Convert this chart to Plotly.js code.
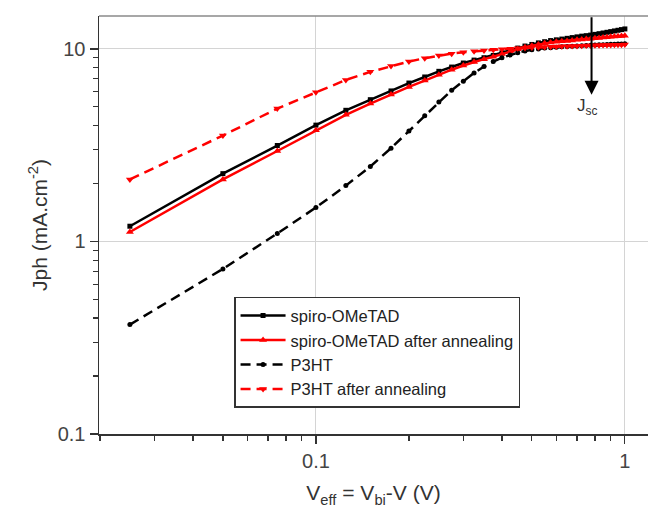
<!DOCTYPE html>
<html>
<head>
<meta charset="utf-8">
<script src="https://cdn.plot.ly/plotly-3.0.1.min.js"></script>
<style>html,body{margin:0;padding:0;background:#fff;}#chart{width:648px;height:511px;}</style>
</head>
<body>
<div id="chart"></div>
<script>
// Effective voltage V_eff (V)
var vEff = [0.025,0.05,0.075,0.1,0.125,0.15,0.175,0.2,0.225,0.25,0.275,0.3,0.325,0.35,0.375,0.4,0.425,0.45,0.475,0.5,
            0.525,0.55,0.575,0.6,0.625,0.65,0.675,0.7,0.725,0.75,0.775,0.8,0.825,0.85,0.875,0.9,0.925,0.95,0.975,1.0];

// Jph (mA.cm-2)
var spiro = [1.20,2.25,3.15,4.02,4.80,5.45,6.05,6.65,7.15,7.65,8.05,8.45,8.75,9.00,9.25,9.55,9.85,10.10,10.35,10.55,
             10.75,10.90,11.05,11.15,11.25,11.35,11.45,11.55,11.65,11.72,11.80,11.90,12.00,12.10,12.20,12.30,12.40,12.50,12.60,12.70];
var spiroAnn = [1.12,2.10,2.95,3.78,4.55,5.20,5.80,6.35,6.85,7.35,7.80,8.20,8.55,8.85,9.10,9.40,9.70,9.95,10.20,10.40,
                10.55,10.70,10.80,10.90,10.95,11.00,11.05,11.15,11.20,11.25,11.30,11.35,11.40,11.45,11.50,11.55,11.60,11.62,11.66,11.70];
var p3ht = [0.37,0.72,1.10,1.50,1.95,2.45,3.05,3.75,4.50,5.30,6.10,6.80,7.50,8.10,8.60,9.00,9.30,9.55,9.75,9.90,
            10.00,10.10,10.15,10.20,10.25,10.30,10.33,10.36,10.39,10.42,10.45,10.48,10.50,10.52,10.54,10.56,10.58,10.60,10.62,10.64];
var p3htAnn = [2.10,3.55,4.90,5.95,6.90,7.60,8.15,8.60,8.95,9.25,9.45,9.60,9.72,9.82,9.90,9.97,10.03,10.08,10.12,10.16,
               10.20,10.23,10.26,10.29,10.31,10.33,10.35,10.37,10.39,10.41,10.43,10.45,10.46,10.47,10.48,10.49,10.50,10.51,10.52,10.53];

var seriesNames = ['spiro-OMeTAD','spiro-OMeTAD after annealing','P3HT','P3HT after annealing'];

// axis ticks
var xMajor = [0.1, 1];
var xMajorText = ['0.1', '1'];
var yMajor = [0.1, 1, 10];
var yMajorText = ['0.1', '1', '10'];
var xMinor = [0.02,0.03,0.04,0.05,0.06,0.07,0.08,0.09,0.2,0.3,0.4,0.5,0.6,0.7,0.8,0.9];
var yMinor = [0.2,0.3,0.4,0.5,0.6,0.7,0.8,0.9,2,3,4,5,6,7,8,9];

var jscV = 0.78;   // V_eff where the Jsc arrow is drawn
var jscJ = 5.78;   // arrow head position (mA.cm-2)

var FONT = 'Liberation Sans, Arial, sans-serif';

var traces = [
  {x: vEff, y: spiro, name: seriesNames[0], mode: 'lines+markers',
   line: {color: '#000000', width: 2.5}, marker: {symbol: 'square', size: 5, color: '#000000'}},
  {x: vEff, y: spiroAnn, name: seriesNames[1], mode: 'lines+markers',
   line: {color: '#ff0000', width: 2.5}, marker: {symbol: 'triangle-up', size: 7, color: '#ff0000'}},
  {x: vEff, y: p3ht, name: seriesNames[2], mode: 'lines+markers',
   line: {color: '#000000', width: 2.5, dash: '10px,6px'}, marker: {symbol: 'circle', size: 5, color: '#000000'}},
  {x: vEff, y: p3htAnn, name: seriesNames[3], mode: 'lines+markers',
   line: {color: '#ff0000', width: 2.5, dash: '10px,6px'}, marker: {symbol: 'triangle-down', size: 7, color: '#ff0000'}}
];

var layout = {
  width: 648, height: 511,
  margin: {l: 99, r: 0, t: 16, b: 77, pad: 0},
  paper_bgcolor: '#ffffff', plot_bgcolor: '#ffffff',
  font: {family: FONT, size: 17, color: '#333333'},
  showlegend: true,
  legend: {
    x: 0.246, y: 0.328, xanchor: 'left', yanchor: 'top',
    bgcolor: '#ffffff', bordercolor: '#333333', borderwidth: 1.5,
    font: {family: FONT, size: 16.5, color: '#222222'},
    itemwidth: 45, tracegroupgap: 0
  },
  xaxis: {
    type: 'log', range: [Math.log10(0.01986), Math.log10(1.188)],
    tickvals: xMajor, ticktext: xMajorText,
    ticks: 'outside', ticklen: 8, tickwidth: 1.2, tickcolor: '#333333',
    tickfont: {family: FONT, size: 20, color: '#444444'},
    showline: true, linecolor: '#333333', linewidth: 1.5,
    showgrid: true, gridcolor: '#d4d4d4', gridwidth: 1,
    zeroline: false,
    minor: {tickvals: xMinor, ticks: 'outside', ticklen: 5, tickwidth: 1.2, tickcolor: '#333333', showgrid: false},
    title: {text: 'V<sub>eff</sub> = V<sub>bi</sub>-V (V)', font: {family: FONT, size: 21, color: '#333333'}, standoff: 15}
  },
  yaxis: {
    type: 'log', range: [-1, 1.171],
    tickvals: yMajor, ticktext: yMajorText,
    ticks: 'outside', ticklen: 8, tickwidth: 1.2, tickcolor: '#333333',
    tickfont: {family: FONT, size: 20, color: '#444444'},
    showline: true, linecolor: '#333333', linewidth: 1.5,
    showgrid: true, gridcolor: '#d4d4d4', gridwidth: 1,
    zeroline: false,
    minor: {tickvals: yMinor, ticks: 'outside', ticklen: 5, tickwidth: 1.2, tickcolor: '#333333', showgrid: false},
    title: {text: 'Jph (mA.cm<sup>-2</sup>)', font: {family: FONT, size: 21, color: '#333333'}, standoff: 4}
  },
  shapes: [
    {type: 'line', xref: 'paper', yref: 'paper', x0: 0, x1: 1, y0: 1, y1: 1,
     line: {color: '#8a8a8a', width: 1.5}}
  ],
  annotations: [
    {xref: 'x', yref: 'y', x: Math.log10(jscV), y: Math.log10(jscJ),
     showarrow: true, arrowhead: 2, arrowsize: 1.4, arrowwidth: 2, arrowcolor: '#000000',
     ax: 0, ay: -79, text: ''},
    {xref: 'x', yref: 'y', x: Math.log10(jscV), y: Math.log10(jscJ), xshift: -5, yshift: -12,
     showarrow: false, text: 'J<sub>sc</sub>', font: {family: FONT, size: 17, color: '#333333'}}
  ]
};

Plotly.newPlot('chart', traces, layout, {staticPlot: true, displayModeBar: false});
</script>
</body>
</html>
